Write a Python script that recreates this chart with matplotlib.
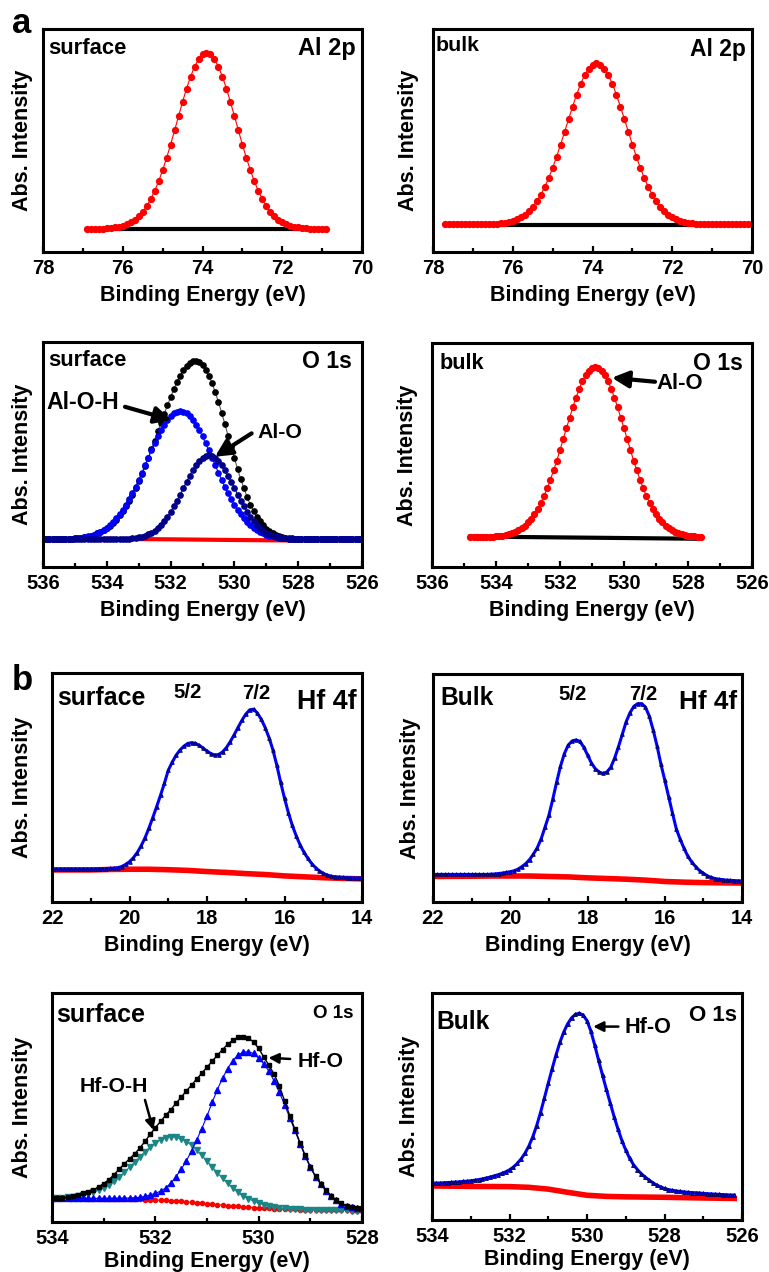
import numpy as np
import matplotlib
matplotlib.use("Agg")
import matplotlib.pyplot as plt
from matplotlib.ticker import MultipleLocator

plt.rcParams['font.family'] = ['Liberation Sans', 'DejaVu Sans']
plt.rcParams['font.weight'] = 'bold'
plt.rcParams['axes.labelweight'] = 'bold'

# ---- data (intensity in arbitrary units, 0-100 scale) ----
# (a) Al 2p surface, 76.9 -> 70.9 eV
al2p_surf_range = (76.9, 70.9)
al2p_surf = [10.3, 10.3, 10.4, 10.4, 10.5, 10.6, 10.7, 11.0, 11.3, 11.8,
             12.4, 13.3, 14.5, 16.1, 18.0, 20.6, 23.7, 27.4, 31.7, 36.7,
             42.2, 48.2, 54.5, 61.0, 67.3, 73.3, 78.6, 83.1, 86.5, 88.6,
             89.3,
             88.6, 86.5, 83.1, 78.6, 73.3, 67.3, 61.0, 54.5, 48.2, 42.2,
             36.7, 31.7, 27.4, 23.7, 20.6, 18.0, 16.1, 14.5, 13.3, 12.4,
             11.8, 11.3, 11.0, 10.7, 10.6, 10.5, 10.4, 10.4, 10.3, 10.3]
al2p_surf_bg_e = [76.9, 70.9]
al2p_surf_bg = [10.1, 10.1]

# (a) Al 2p bulk, 77.7 -> 70.0 eV
al2p_bulk_range = (77.7, 70.0)
al2p_bulk = [12.4] * 10 + [12.5, 12.5, 12.6, 12.7, 12.9, 13.1, 13.5, 14.0, 14.7, 15.6,
             16.8, 18.3, 20.3, 22.7, 25.6, 29.1, 33.1, 37.7, 42.8, 48.2,
             53.9, 59.6, 65.2, 70.5, 75.3, 79.2, 82.1, 84.0,
             84.6,
             84.0, 82.1, 79.2, 75.3, 70.5, 65.2, 59.6, 53.9, 48.2, 42.8,
             37.7, 33.1, 29.1, 25.6, 22.7, 20.3, 18.3, 16.8, 15.6, 14.7,
             14.0, 13.5, 13.1, 12.9, 12.7, 12.6, 12.5, 12.5] + [12.4] * 11
al2p_bulk_bg_e = [77.7, 70.0]
al2p_bulk_bg = [12.1, 12.1]

# (a) O 1s surface (Al), 536 -> 526 eV
o1s_al_surf_range = (536.0, 526.0)
o1s_al_surf_total = [12.3, 12.3, 12.3, 12.3, 12.3, 12.4, 12.4, 12.5, 12.5, 12.6,
                     12.7, 12.8, 13.0, 13.2, 13.5, 13.8, 14.3, 14.9, 15.5, 16.3,
                     17.2, 18.3, 19.6, 21.1, 22.9, 24.8, 27.0, 29.4, 32.1, 35.0,
                     38.2, 41.4, 44.9, 48.6, 52.5, 56.2, 60.3, 64.2, 68.1, 71.8,
                     75.5, 79.0, 82.1, 85.0, 87.4, 89.4, 90.7, 91.6, 91.7, 91.1,
                     89.8, 87.7, 85.1, 81.7, 77.7, 73.3, 68.6, 63.6, 58.4, 53.3,
                     48.4, 43.5, 39.0, 34.9, 31.1, 27.7, 24.9, 22.4, 20.3, 18.5,
                     17.1, 15.9, 15.0, 14.4, 13.8, 13.3, 13.1, 12.9, 12.7, 12.6,
                     12.5, 12.4, 12.4] + [12.3] * 18
o1s_al_surf_aloh = [12.3] * 5 + [12.4, 12.4, 12.5, 12.5, 12.6, 12.7, 12.8, 13.0, 13.3,
                    13.6, 13.9, 14.4, 15.0, 15.7, 16.5, 17.5, 18.6, 20.0, 21.6,
                    23.4, 25.4, 27.7, 30.1, 32.8, 35.7, 38.8, 41.9, 45.2, 48.5,
                    51.8, 54.9, 58.0, 60.7, 63.2, 65.3, 67.0, 68.3, 69.0,
                    69.3,
                    69.0, 68.3, 67.0, 65.3, 63.2, 60.7, 58.0, 54.9, 51.8, 48.5,
                    45.2, 41.9, 38.8, 35.7, 32.8, 30.1, 27.7, 25.4, 23.4, 21.6,
                    20.0, 18.6, 17.5, 16.5, 15.7, 15.0, 14.4, 13.9, 13.6, 13.3,
                    13.0, 12.8, 12.7, 12.6, 12.5, 12.5, 12.4, 12.4] + [12.3] * 19
o1s_al_surf_alo = [12.3] * 24 + [12.4, 12.4, 12.5, 12.6, 12.7, 12.9, 13.2, 13.5, 13.9, 14.5,
                   15.3, 16.2, 17.4, 18.8, 20.4, 22.3, 24.5, 26.9, 29.5, 32.2,
                   35.1, 37.9, 40.6, 43.2, 45.4, 47.3, 48.6, 49.5,
                   49.8,
                   49.5, 48.6, 47.3, 45.4, 43.2, 40.6, 37.9, 35.1, 32.2, 29.5,
                   26.9, 24.5, 22.3, 20.4, 18.8, 17.4, 16.2, 15.3, 14.5, 13.9,
                   13.5, 13.2, 12.9, 12.7, 12.6, 12.5, 12.4, 12.4] + [12.3] * 20
o1s_al_surf_bg_e = [536.0, 534.0, 532.0, 530.0, 528.3]
o1s_al_surf_bg = [12.6, 12.5, 12.3, 12.0, 11.8]

# (a) O 1s bulk (Al), 534.8 -> 527.6 eV
o1s_al_bulk_range = (534.8, 527.6)
o1s_al_bulk = [13.3, 13.3, 13.3, 13.4, 13.4, 13.4, 13.5, 13.6, 13.7, 13.8,
               14.0, 14.3, 14.6, 15.1, 15.7, 16.4, 17.4, 18.5, 19.9, 21.6,
               23.6, 25.9, 28.7, 31.7, 35.1, 39.0, 43.1, 47.5, 52.3, 57.1,
               61.9, 66.6, 71.3, 75.6, 79.6, 82.9, 85.7, 87.7, 89.0,
               89.4,
               89.0, 87.7, 85.7, 82.9, 79.6, 75.6, 71.3, 66.6, 61.9, 57.1,
               52.3, 47.5, 43.1, 39.0, 35.1, 31.7, 28.7, 25.9, 23.6, 21.6,
               19.9, 18.5, 17.4, 16.4, 15.7, 15.1, 14.6, 14.3, 14.0, 13.8,
               13.7, 13.6, 13.5]
o1s_al_bulk_bg_e = [534.8, 527.6]
o1s_al_bulk_bg = [13.6, 12.6]

# (b) Hf 4f surface, 22 -> 14 eV
hf4f_range = (22.0, 14.0)
hf4f_surf = [14.4] * 12 + [14.5, 14.5, 14.6,
             14.7, 14.8, 15.0, 15.5, 16.4, 17.6, 19.3, 21.6, 24.5, 28.0,
             32.2, 36.8, 41.6, 46.6, 51.8, 57.5, 61.0, 64.0, 66.3, 68.0,
             69.2, 69.6, 69.3, 68.4, 67.2, 65.9, 64.8, 64.2, 64.4, 65.5,
             67.4, 70.0, 73.0, 76.2, 79.3, 82.0, 83.9, 84.2, 82.5, 79.8,
             76.2, 71.8, 66.5, 59.8, 52.3, 45.3, 39.0, 33.5, 29.0, 25.0,
             21.8, 19.1, 16.8, 15.0, 13.6, 12.5, 11.8, 11.3, 11.0, 10.8,
             10.7, 10.6, 10.6, 10.5, 10.5, 10.5]
hf4f_bulk = [12.1] * 15 + [
             12.2, 12.3, 12.5, 12.7, 13.0, 13.3, 13.7, 14.4, 15.5, 16.8,
             18.6, 21.0, 23.8, 27.7, 32.8, 38.0, 45.0, 52.5, 59.5, 65.0,
             68.8, 70.6, 71.1, 70.5, 68.0, 64.5, 61.0, 58.5, 57.0, 56.4,
             57.0, 59.0, 63.0, 68.0, 73.5, 79.0, 83.0, 85.8, 87.0, 87.0,
             85.5, 81.5, 75.5, 68.5, 60.5, 53.5, 46.2, 39.0, 32.0, 27.5,
             23.5, 20.0, 17.5, 15.5, 13.8, 12.6, 11.5, 10.8, 10.3, 10.0,
             9.8, 9.6, 9.5, 9.4, 9.3, 9.3]
hf4f_bg_e = [22, 21, 20.5, 20, 19.5, 19, 18.5, 18, 17.5, 17, 16.5, 16, 15.5, 15, 14.5, 14]
hf4f_surf_bg = [14.0, 14.0, 14.2, 14.3, 14.3, 14.1, 13.8, 13.3, 12.9, 12.4, 12.0, 11.4, 11.0, 10.6, 10.3, 10.1]
hf4f_bulk_bg = [11.2, 11.3, 11.4, 11.4, 11.4, 11.2, 11.0, 10.6, 10.3, 10.0, 9.6, 9.0, 8.7, 8.5, 8.4, 8.3]

# (b) O 1s surface (Hf), 534 -> 528 eV
o1s_hf_surf_range = (534.0, 528.0)
o1s_hf_surf_total = [10.3, 10.4, 10.6, 10.9, 11.4, 11.9, 12.5, 13.2, 14.0, 15.3,
                     16.8, 18.5, 20.6, 23.1, 25.4, 27.6, 29.8, 32.3, 35.2, 38.3,
                     41.2, 43.9, 46.6, 49.1, 51.8, 54.5, 57.2, 59.8, 62.4, 65.0,
                     67.6, 70.2, 72.8, 75.3, 77.6, 79.4, 80.6, 81.0, 80.4, 78.6,
                     75.8, 72.0, 68.4, 64.5, 59.5, 53.0, 46.5, 40.6, 34.7, 29.1,
                     24.1, 20.0, 16.8, 13.9, 11.4, 9.6, 8.2, 7.2, 6.6, 6.3, 6.2]
o1s_hf_surf_hfo = [10.3] * 13 + [10.4, 10.4, 10.5, 10.6, 10.8, 11.2, 11.8,
                   12.6, 13.4, 14.9, 17.0, 19.8, 23.0, 26.7, 31.0, 35.8, 40.8,
                   46.3, 52.2, 57.8, 62.8, 67.0, 70.5, 72.9, 74.2, 74.4, 73.6,
                   71.6, 69.0, 65.8, 61.5, 56.6, 51.3, 45.6, 40.0, 34.2, 28.7,
                   23.8, 19.8, 16.6, 13.7, 11.2, 9.4, 8.0, 7.0, 6.5, 6.2, 6.1]
o1s_hf_surf_hfoh = [10.4, 10.5, 10.6, 10.8, 11.0, 11.3, 11.8, 12.2, 13.0, 13.9,
                    15.0, 16.3, 17.9, 19.8, 21.7, 23.9, 26.2, 28.5, 30.7, 32.7,
                    34.5, 35.8, 36.8, 37.2, 37.0, 36.4, 35.1, 33.5, 31.4, 29.1,
                    26.6, 24.1, 21.5, 19.1, 16.9, 14.8, 13.0, 11.4, 10.2, 9.1,
                    8.2, 7.5, 6.9, 6.5, 6.2, 5.9, 5.7, 5.6, 5.5, 5.4,
                    5.3, 5.3, 5.2, 5.2, 5.2, 5.1, 5.1, 5.1, 5.0, 5.0, 5.0]
o1s_hf_surf_bg = [10.3] * 7 + [10.2] * 4 + [10.1] * 3 + [
                  10.0, 10.0, 9.9, 9.9, 9.8, 9.7, 9.6, 9.5, 9.4, 9.3,
                  9.1, 9.0, 8.8, 8.6, 8.4, 8.2, 8.0, 7.8, 7.6, 7.4,
                  7.2, 7.0, 6.8, 6.6, 6.5, 6.3, 6.2, 6.0, 5.9, 5.8,
                  5.7, 5.6, 5.5, 5.5, 5.4, 5.4, 5.3, 5.3, 5.2, 5.2,
                  5.2, 5.1, 5.1, 5.1, 5.0, 5.0, 5.0]

# (b) O 1s bulk (Hf), 534 -> 526.2 eV
o1s_hf_bulk_range = (534.0, 526.2)
o1s_hf_bulk = [16.2, 16.3, 16.3, 16.4, 16.5, 16.6, 16.7, 16.8, 17.0, 17.1,
               17.3, 17.5, 17.8, 18.1, 18.5, 18.9, 19.4, 19.9, 20.5, 21.2,
               22.1, 23.3, 24.9, 26.9, 29.4, 32.6, 36.6, 41.5, 47.3, 53.7,
               60.2, 66.6, 72.7, 78.2, 82.8, 86.4, 89.0, 90.6, 91.1, 90.3,
               87.8, 83.2, 77.0, 70.3, 63.8, 57.5, 51.5, 45.5, 40.0, 35.0,
               30.8, 27.2, 24.4, 22.2, 20.4, 18.9, 17.6, 16.4, 15.4, 14.6,
               13.9, 13.4, 13.1, 12.8, 12.6, 12.4, 12.2, 12.1, 12.0, 11.9,
               11.7, 11.6, 11.5, 11.4, 11.3, 11.2, 11.1, 11.0, 11.0]
o1s_hf_bulk_bg_e = [534, 533, 532, 531.5, 531, 530.5, 530, 529.5, 529, 528, 527, 526.2]
o1s_hf_bulk_bg = [15.0, 14.8, 14.7, 14.4, 13.6, 12.2, 10.9, 10.4, 10.2, 10.0, 9.7, 9.5]

RED = '#ff0000'
BLUE = '#0000ff'
NAVY = '#00008b'
DARK = '#000050'
TEAL = '#1c8585'


def grid(rng, values):
    return np.linspace(rng[0], rng[1], len(values))


def add_panel(box, xlim, ylabelpad, xlabelpad=5):
    x0, y0, x1, y1 = box
    W, H = 769, 1272
    ax = fig.add_axes([x0 / W, 1 - y1 / H, (x1 - x0) / W, (y1 - y0) / H])
    ax.set_xlim(xlim)
    ax.set_ylim(0, 100)
    ax.xaxis.set_major_locator(MultipleLocator(2))
    ax.xaxis.set_minor_locator(MultipleLocator(1))
    ax.tick_params(axis='x', which='both', direction='in', width=1.6, labelsize=14.5, pad=5)
    ax.tick_params(axis='x', which='major', length=4)
    ax.tick_params(axis='x', which='minor', length=3)
    ax.set_yticks([])
    for s in ax.spines.values():
        s.set_linewidth(2.2)
    ax.set_xlabel('Binding Energy (eV)', fontsize=15.5, labelpad=xlabelpad)
    ax.set_ylabel('Abs. Intensity', fontsize=15.5, labelpad=ylabelpad)
    return ax


def corner(ax, left, right, lsize, rsize, ly, ry, lx=0.015, rx=0.98):
    ax.text(lx, ly, left, transform=ax.transAxes, fontsize=lsize, ha='left', va='center')
    ax.text(rx, ry, right, transform=ax.transAxes, fontsize=rsize, ha='right', va='center')


def arrow(ax, tail, head, lw, hw, hl):
    ax.annotate('', xy=head, xytext=tail,
                arrowprops=dict(arrowstyle='-|>,head_width=%s,head_length=%s' % (hw, hl),
                                lw=lw, color='k', shrinkA=0, shrinkB=0))


fig = plt.figure(figsize=(7.69, 12.72), dpi=100)

# panel a1
ax = add_panel((43, 29, 362, 252), (78, 70), 7)
ax.plot(al2p_surf_bg_e, al2p_surf_bg, color='k', lw=3)
ax.plot(grid(al2p_surf_range, al2p_surf), al2p_surf, color=RED, lw=0.8, marker='o', ms=4.2)
corner(ax, 'surface', 'Al 2p', 15.8, 17, 0.913, 0.913, lx=0.017, rx=0.981)

# panel a2
ax = add_panel((433, 29, 752, 252), (78, 70), 10)
ax.plot(al2p_bulk_bg_e, al2p_bulk_bg, color='k', lw=3)
ax.plot(grid(al2p_bulk_range, al2p_bulk), al2p_bulk, color=RED, lw=0.8, marker='o', ms=4.2)
corner(ax, 'bulk', 'Al 2p', 15.4, 16.5, 0.928, 0.906, lx=0.008, rx=0.98)

# panel a3
ax = add_panel((43, 342, 362, 567), (536, 526), 7)
e = grid(o1s_al_surf_range, o1s_al_surf_total)
ax.plot(o1s_al_surf_bg_e, o1s_al_surf_bg, color=RED, lw=3)
ax.plot(e, o1s_al_surf_total, color='#555555', lw=0.8, marker='o', ms=3.8, mfc='k', mec='k')
ax.plot(e, o1s_al_surf_aloh, color=BLUE, lw=0.8, marker='o', ms=3.8)
ax.plot(e, o1s_al_surf_alo, color=NAVY, lw=0.8, marker='o', ms=3.8)
corner(ax, 'surface', 'O 1s', 15.8, 16.6, 0.916, 0.912, lx=0.017, rx=0.968)
ax.text(535.88, 73.3, 'Al-O-H', fontsize=16.6, ha='left', va='center')
arrow(ax, (533.43, 71.2), (531.97, 65.3), 3, 0.5, 1.0)
ax.text(529.29, 59.6, 'Al-O', fontsize=15.3, ha='left', va='center')
arrow(ax, (529.46, 59.4), (530.61, 49.0), 3, 0.5, 1.0)

# panel a4
ax = add_panel((432, 343, 752, 567), (536, 526), 10)
ax.plot(o1s_al_bulk_bg_e, o1s_al_bulk_bg, color='k', lw=3)
ax.plot(grid(o1s_al_bulk_range, o1s_al_bulk), o1s_al_bulk, color=RED, lw=0.8, marker='o', ms=4.2)
corner(ax, 'bulk', 'O 1s', 15.7, 16.6, 0.909, 0.91, lx=0.023, rx=0.973)
ax.text(528.98, 82.0, 'Al-O', fontsize=15.9, ha='left', va='center')
arrow(ax, (529.03, 82.7), (530.38, 84.5), 3, 0.5, 1.0)

# panel b1
ax = add_panel((52, 673, 362, 902), (22, 14), 13.5)
e = grid(hf4f_range, hf4f_surf)
ax.plot(hf4f_bg_e, hf4f_surf_bg, color=RED, lw=4)
ax.plot(e, hf4f_surf, color=BLUE, lw=2.2, marker='^', ms=2.6, mfc=BLUE, mec=DARK, mew=0.6)
corner(ax, 'surface', 'Hf 4f', 17.9, 19.4, 0.89, 0.875, lx=0.015, rx=0.983)
ax.text(18.5, 91.3, '5/2', fontsize=14.7, ha='center', va='center')
ax.text(16.72, 91.1, '7/2', fontsize=14.7, ha='center', va='center')

# panel b2
ax = add_panel((433, 674, 742, 902), (22, 14), 8.5)
ax.plot(hf4f_bg_e, hf4f_bulk_bg, color=RED, lw=4)
ax.plot(e, hf4f_bulk, color=BLUE, lw=2.2, marker='^', ms=2.6, mfc=BLUE, mec=DARK, mew=0.6)
corner(ax, 'Bulk', 'Hf 4f', 17.7, 18.8, 0.893, 0.879, lx=0.023, rx=0.983)
ax.text(18.39, 90.8, '5/2', fontsize=14.7, ha='center', va='center')
ax.text(16.55, 90.8, '7/2', fontsize=14.7, ha='center', va='center')

# panel b3
ax = add_panel((52, 993, 362, 1222), (534, 528), 13.5, xlabelpad=2)
e = grid(o1s_hf_surf_range, o1s_hf_surf_total)
ax.plot(e, o1s_hf_surf_bg, color=RED, lw=0.8, marker='o', ms=3)
ax.plot(e, o1s_hf_surf_hfoh, color=TEAL, lw=0.8, marker='v', ms=3.8)
ax.plot(e, o1s_hf_surf_hfo, color=BLUE, lw=0.8, marker='^', ms=3.8)
ax.plot(e, o1s_hf_surf_total, color='k', lw=1.0, marker='s', ms=2.5)
corner(ax, 'surface', 'O 1s', 18, 13.5, 0.904, 0.911, lx=0.015, rx=0.974)
ax.text(529.24, 69.9, 'Hf-O', fontsize=15.3, ha='left', va='center')
arrow(ax, (529.39, 71.2), (529.81, 71.7), 1.8, 0.3, 0.6)
ax.text(533.46, 59.0, 'Hf-O-H', fontsize=15.3, ha='left', va='center')
arrow(ax, (532.2, 53.3), (532.04, 40.2), 1.8, 0.3, 0.6)

# panel b4
ax = add_panel((432, 993, 742, 1220), (534, 526), 8.5, xlabelpad=2)
ax.plot(o1s_hf_bulk_bg_e, o1s_hf_bulk_bg, color=RED, lw=4)
ax.plot(grid(o1s_hf_bulk_range, o1s_hf_bulk), o1s_hf_bulk, color=BLUE, lw=2.2,
        marker='^', ms=2.8, mfc=BLUE, mec=DARK, mew=0.6)
corner(ax, 'Bulk', 'O 1s', 17.7, 16, 0.874, 0.903, lx=0.015, rx=0.983)
ax.text(529.02, 85.0, 'Hf-O', fontsize=15.6, ha='left', va='center')
arrow(ax, (529.19, 85.2), (529.84, 85.2), 1.8, 0.3, 0.6)

fig.text(12 / 769, 1 - 33 / 1272, 'a', fontsize=25, ha='left', va='baseline')
fig.text(12 / 769, 1 - 690 / 1272, 'b', fontsize=25, ha='left', va='baseline')

fig.savefig('out.png', dpi=100)
